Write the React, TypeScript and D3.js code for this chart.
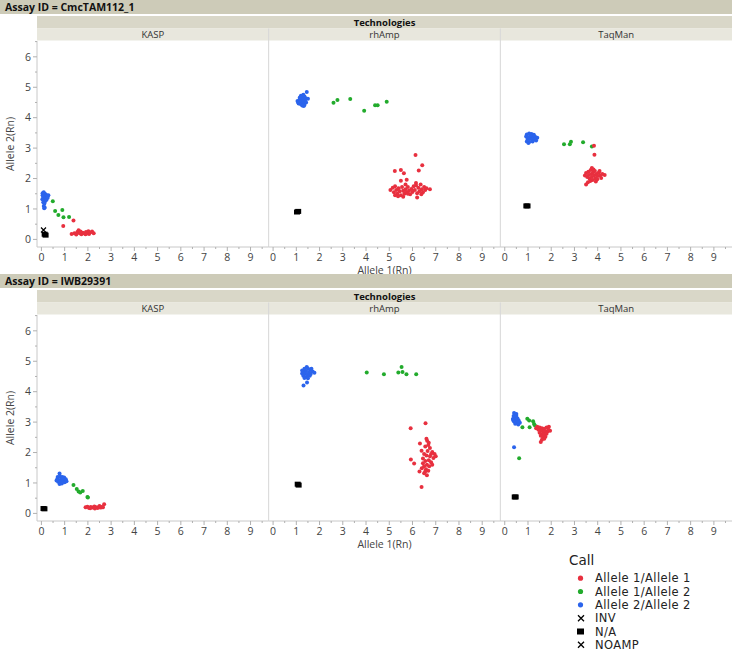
import React from 'react';
import * as d3 from 'd3';

type P = [number, number];

// Call categories and legend labels
const callKeys = ['A11', 'A12', 'A22', 'INV', 'NA', 'NOAMP'];
const callLabels = ['Allele 1/Allele 1', 'Allele 1/Allele 2', 'Allele 2/Allele 2', 'INV', 'N/A', 'NOAMP'];
const technologies = ['KASP', 'rhAmp', 'TaqMan'];
const assays = ['CmcTAM112_1', 'IWB29391'];
const xTicks = [0, 1, 2, 3, 4, 5, 6, 7, 8, 9];
const yTicks = [0, 1, 2, 3, 4, 5, 6];

// ---- Assay CmcTAM112_1 ----
const cmcKasp: Record<string, P[]> = {
  A22: [[0.05,1.52],[0.1,1.55],[0.15,1.5],[0.2,1.47],[0.05,1.45],[0.12,1.42],[0.18,1.4],[0.25,1.42],[0.3,1.45],[0.08,1.38],[0.14,1.35],[0.2,1.33],[0.04,1.32],[0.1,1.28],[0.16,1.25],[0.22,1.3],[0.08,1.22],[0.13,1.18],[0.1,1.1],[0.14,1.05],[0.12,1.02],[0.27,1.37]],
  A12: [[0.49,1.25],[0.59,0.93],[0.73,0.8],[0.9,0.97],[0.95,0.73],[1.19,0.74]],
  A11: [[0.94,0.44],[1.38,0.62],[1.3,0.18],[1.42,0.2],[1.5,0.16],[1.55,0.24],[1.6,0.3],[1.65,0.2],[1.72,0.17],[1.78,0.22],[1.85,0.19],[1.92,0.24],[1.98,0.2],[2.05,0.18],[2.1,0.23],[2.18,0.26],[2.25,0.2],[1.68,0.26],[1.9,0.17],[2.02,0.27]],
  NA: [[0.14,0.17],[0.18,0.14]],
  NOAMP: [[0.09,0.31]],
  INV: [],
};
const cmcRhamp: Record<string, P[]> = {
  A22: [[1.45,4.84],[1.2,4.72],[1.3,4.75],[1.25,4.68],[1.35,4.7],[1.15,4.62],[1.22,4.6],[1.3,4.62],[1.4,4.64],[1.5,4.62],[1.05,4.55],[1.12,4.52],[1.2,4.55],[1.28,4.52],[1.38,4.55],[1.1,4.47],[1.18,4.45],[1.3,4.46],[1.35,4.42],[1.25,4.4],[1.08,4.5],[1.42,4.5],[1.32,4.38],[1.15,4.66]],
  A12: [[2.6,4.49],[2.77,4.58],[3.32,4.61],[3.92,4.23],[4.39,4.41],[4.5,4.41],[4.89,4.52]],
  A11: [[6.13,2.77],[6.42,2.44],[5.24,2.25],[5.5,2.28],[5.63,2.17],[6.27,2.26],[5.5,1.93],[5.75,1.96],[6.15,1.85],[6.2,1.38],
    [5.05,1.62],[5.15,1.7],[5.2,1.55],[5.25,1.75],[5.3,1.62],[5.35,1.5],[5.4,1.68],[5.45,1.58],[5.5,1.45],[5.55,1.72],[5.6,1.6],[5.65,1.5],[5.7,1.65],[5.75,1.55],[5.8,1.72],[5.85,1.6],[5.9,1.48],[5.95,1.66],[6.0,1.56],[6.05,1.75],[6.1,1.62],[6.25,1.7],[6.3,1.58],[6.35,1.8],[6.4,1.65],[6.45,1.55],[6.5,1.72],[6.55,1.62],[6.75,1.65],[6.6,1.68],[5.38,1.42],[5.6,1.4],[5.8,1.5],[6.2,1.52],[6.38,1.48],[5.25,1.45],[6.15,1.78],[5.7,1.8]],
  NA: [[1.03,0.9],[1.08,0.92]],
  NOAMP: [],
  INV: [],
};
const cmcTaqman: Record<string, P[]> = {
  A22: [[0.95,3.45],[1.05,3.48],[1.15,3.46],[1.25,3.44],[0.92,3.38],[1.0,3.36],[1.1,3.38],[1.2,3.36],[1.3,3.38],[1.4,3.34],[0.98,3.3],[1.08,3.3],[1.18,3.28],[1.28,3.28],[0.95,3.22],[1.05,3.2],[1.2,3.22],[1.02,3.17],[1.35,3.25],[1.12,3.42]],
  A12: [[2.55,3.13],[2.8,3.13],[2.85,3.21],[3.37,3.19],[3.75,3.05]],
  A11: [[3.84,3.08],[3.86,2.78],[3.45,2.1],[3.5,2.18],[3.55,2.05],[3.6,2.22],[3.62,2.12],[3.65,2.0],[3.7,2.28],[3.72,2.15],[3.75,2.05],[3.78,1.95],[3.8,2.2],[3.85,2.1],[3.88,2.25],[3.9,2.0],[3.95,2.15],[4.0,2.08],[4.05,2.2],[4.1,2.1],[4.15,2.02],[4.2,2.15],[4.3,2.12],[3.58,1.88],[3.5,1.8],[3.68,1.92],[3.82,2.3],[3.98,1.98],[4.08,2.25],[3.92,1.9],[3.75,2.35]],
  NA: [[0.93,1.1],[0.98,1.1]],
  NOAMP: [],
  INV: [],
};

// ---- Assay IWB29391 ----
const iwbKasp: Record<string, P[]> = {
  A22: [[0.78,1.31],[0.7,1.2],[0.8,1.22],[0.9,1.2],[0.98,1.18],[0.68,1.12],[0.75,1.1],[0.85,1.12],[0.95,1.1],[1.05,1.12],[0.72,1.04],[0.82,1.02],[0.9,1.05],[1.0,1.02],[0.78,0.97],[0.88,0.98],[0.65,1.08],[0.92,1.15],[1.08,1.06]],
  A12: [[1.38,0.93],[1.52,0.8],[1.6,0.72],[1.67,0.69],[1.78,0.74],[1.98,0.54],[2.0,0.52]],
  A11: [[1.9,0.2],[1.98,0.22],[2.05,0.18],[2.12,0.21],[2.2,0.19],[2.28,0.23],[2.35,0.2],[2.42,0.18],[2.48,0.22],[2.55,0.19],[2.6,0.21],[2.65,0.2],[2.7,0.3],[2.1,0.17],[2.3,0.16],[2.5,0.24]],
  NA: [[0.09,0.16],[0.13,0.15]],
  NOAMP: [],
  INV: [],
};
const iwbRhamp: Record<string, P[]> = {
  A22: [[1.45,4.81],[1.35,4.75],[1.5,4.76],[1.6,4.72],[1.3,4.68],[1.42,4.68],[1.55,4.65],[1.7,4.66],[1.78,4.62],[1.25,4.6],[1.38,4.6],[1.5,4.58],[1.62,4.58],[1.3,4.52],[1.45,4.5],[1.58,4.52],[1.35,4.45],[1.5,4.44],[1.31,4.2],[1.46,4.3],[1.25,4.7],[1.65,4.75]],
  A12: [[4.03,4.63],[4.77,4.57],[5.39,4.63],[5.53,4.81],[5.57,4.65],[5.74,4.57],[6.16,4.57]],
  A11: [[6.56,2.96],[5.92,2.8],[6.32,2.3],[6.63,2.39],[6.39,2.06],[5.93,1.77],[6.07,1.64],[6.39,0.87],
    [6.6,2.45],[6.7,2.32],[6.55,2.2],[6.75,2.15],[6.65,2.05],[6.85,2.02],[6.95,1.95],[6.5,1.95],[6.6,1.9],[6.75,1.88],[6.9,1.82],[7.0,1.88],[6.45,1.8],[6.55,1.72],[6.7,1.75],[6.8,1.68],[6.62,1.6],[6.5,1.55],[6.72,1.55],[6.4,1.48],[6.58,1.45],[6.68,1.4],[6.3,1.38],[6.5,1.32],[6.62,1.25],[6.85,1.6],[6.45,1.65],[6.8,1.95],[6.68,2.25],[6.55,1.38]],
  NA: [[1.06,0.96],[1.1,0.93]],
  NOAMP: [],
  INV: [],
};
const iwbTaqman: Record<string, P[]> = {
  A22: [[0.4,3.3],[0.45,3.25],[0.38,3.2],[0.5,3.2],[0.42,3.15],[0.55,3.12],[0.35,3.1],[0.48,3.08],[0.6,3.05],[0.4,3.02],[0.52,3.0],[0.65,2.98],[0.45,2.95],[0.58,2.92],[0.37,3.05],[0.5,3.27],[0.4,2.17]],
  A12: [[0.97,3.11],[1.05,3.05],[1.22,3.03],[1.26,2.94],[0.76,2.83],[1.07,2.83],[1.3,2.89],[0.62,1.81]],
  A11: [[1.4,2.85],[1.5,2.82],[1.6,2.8],[1.7,2.78],[1.8,2.82],[1.9,2.85],[1.95,2.72],[1.85,2.7],[1.75,2.68],[1.65,2.7],[1.55,2.72],[1.45,2.75],[1.6,2.6],[1.7,2.6],[1.8,2.62],[1.55,2.55],[1.65,2.5],[1.75,2.52],[1.6,2.42],[1.7,2.45],[1.55,2.35],[1.88,2.75],[1.35,2.8],[1.5,2.65]],
  NA: [[0.43,0.54],[0.47,0.54]],
  NOAMP: [],
  INV: [],
};

const panelsByAssay = [
  [cmcKasp, cmcRhamp, cmcTaqman],
  [iwbKasp, iwbRhamp, iwbTaqman],
];

const callColor = d3.scaleOrdinal<string, string>()
  .domain(callKeys)
  .range(['#e8303f', '#22ab2c', '#2b64ec', '#000', '#000', '#000']);

const W = 736;
const H = 652;
const FONT = "'Open Sans', 'Noto Sans', sans-serif";
const LEGEND_FONT = "'DejaVu Sans', 'Open Sans', sans-serif";
const plotLeft = 37;
const plotRight = 732;
const sectionOffset = 274;

const panelX = d3.scaleBand<string>().domain(technologies).range([plotLeft, plotRight]).padding(0);

function Marker({ call, x, y }: { call: string; x: number; y: number }) {
  if (call === 'NA') {
    return <rect x={x - 3} y={y - 2.5} width={6} height={5} fill="#000" />;
  }
  if (call === 'INV' || call === 'NOAMP') {
    return (
      <path d={`M${x - 2.5},${y - 2.5}L${x + 2.5},${y + 2.5}M${x + 2.5},${y - 2.5}L${x - 2.5},${y + 2.5}`}
        stroke="#000" strokeWidth={1.2} />
    );
  }
  return <circle cx={x} cy={y} r={2} fill={callColor(call)} />;
}

function Section({ idx }: { idx: number }) {
  const top = idx * sectionOffset;
  const plotTop = top + 41;
  const plotBottom = top + 247;
  const y = d3.scaleLinear().domain([-0.25, 6.52]).range([plotBottom, plotTop]);
  const yMinor = d3.range(0, 6.6, 0.5);
  const xMinor = d3.range(0, 9.6, 0.5);
  const bw = panelX.bandwidth();

  return (
    <g>
      {/* assay id bar */}
      <rect x={0} y={top} width={plotRight} height={14} fill="#cdcbb8" />
      <text x={5} y={top + 11} fontSize={10.5} fontWeight="bold" fill="#111" fontFamily={FONT}>
        {`Assay ID = ${assays[idx]}`}
      </text>
      {/* technologies bar */}
      <rect x={plotLeft} y={top + 16} width={plotRight - plotLeft} height={12.5} fill="#d9d7c8" />
      <text x={(plotLeft + plotRight) / 2} y={top + 25.5} fontSize={9.5} fontWeight="bold" textAnchor="middle" fill="#111" fontFamily={FONT}>
        Technologies
      </text>

      {/* y axis */}
      <line x1={plotLeft} x2={plotLeft} y1={plotTop} y2={plotBottom} stroke="#c8c8c8" />
      {yMinor.map(v => (
        <line key={v} x1={plotLeft - (Number.isInteger(v) ? 4 : 2)} x2={plotLeft} y1={y(v)} y2={y(v)} stroke="#b0b0b0" />
      ))}
      {yTicks.map(v => (
        <text key={v} x={plotLeft - 6} y={y(v) + 3.8} fontSize={10.5} textAnchor="end" fill="#444" fontFamily={FONT}>{v}</text>
      ))}
      <text transform={`translate(14,${(plotTop + plotBottom) / 2}) rotate(-90)`} fontSize={10.5} textAnchor="middle" fill="#444" fontFamily={FONT}>
        Allele 2(Rn)
      </text>

      {technologies.map((tech, ti) => {
        const left = panelX(tech) as number;
        const x = d3.scaleLinear().domain([-0.19, 9.78]).range([left, left + bw]);
        const data = panelsByAssay[idx][ti];
        return (
          <g key={tech}>
            <rect x={left} y={top + 28.5} width={bw} height={12} fill="#e8e7dd" />
            <text x={left + bw / 2} y={top + 38.3} fontSize={9.5} textAnchor="middle" fill="#333" fontFamily={FONT}>{tech}</text>
            {ti > 0 && <line x1={left} x2={left} y1={top + 28.5} y2={plotBottom} stroke="#d6d6d6" />}
            {/* x axis */}
            <line x1={left} x2={left + bw} y1={plotBottom} y2={plotBottom} stroke="#c8c8c8" />
            {xMinor.map(v => (
              <line key={v} x1={x(v)} x2={x(v)} y1={plotBottom} y2={plotBottom + (Number.isInteger(v) ? 4 : 2)} stroke="#b0b0b0" />
            ))}
            {xTicks.map(v => (
              <text key={v} x={x(v)} y={plotBottom + 14} fontSize={10.5} textAnchor="middle" fill="#444" fontFamily={FONT}>{v}</text>
            ))}
            {['A22', 'A12', 'A11', 'NA', 'INV', 'NOAMP'].map(c =>
              (data[c] || []).map((p, i) => <Marker key={c + i} call={c} x={x(p[0])} y={y(p[1])} />)
            )}
          </g>
        );
      })}
      <text x={(panelX('rhAmp') as number) + bw / 2} y={plotBottom + 27} fontSize={10.5} textAnchor="middle" fill="#444" fontFamily={FONT}>
        Allele 1(Rn)
      </text>
    </g>
  );
}

function Legend() {
  const ly = d3.scaleBand<string>().domain(callKeys).range([571.5, 651.5]);
  return (
    <g fontFamily={LEGEND_FONT}>
      <text x={569} y={565} fontSize={13.5} fill="#222">Call</text>
      {callKeys.map((c, i) => {
        const cy = (ly(c) as number) + ly.bandwidth() / 2;
        return (
          <g key={c}>
            {c === 'NA' ? <rect x={577} y={cy - 3} width={7} height={6} fill="#000" />
              : (c === 'INV' || c === 'NOAMP') ? <path d={`M${578},${cy - 3}L${584},${cy + 3}M${584},${cy - 3}L${578},${cy + 3}`} stroke="#000" strokeWidth={1.3} />
              : <circle cx={580.5} cy={cy} r={2.6} fill={callColor(c)} />}
            <text x={595} y={cy + 4.3} fontSize={11.5} fill="#222" letterSpacing={0.4}>{callLabels[i]}</text>
          </g>
        );
      })}
    </g>
  );
}

export default function App() {
  return (
    <div style={{ position: 'absolute', left: 0, top: 0 }}>
      <svg width={W} height={H} style={{ display: 'block', background: '#fff' }}>
        <Section idx={0} />
        <Section idx={1} />
        <Legend />
      </svg>
    </div>
  );
}
